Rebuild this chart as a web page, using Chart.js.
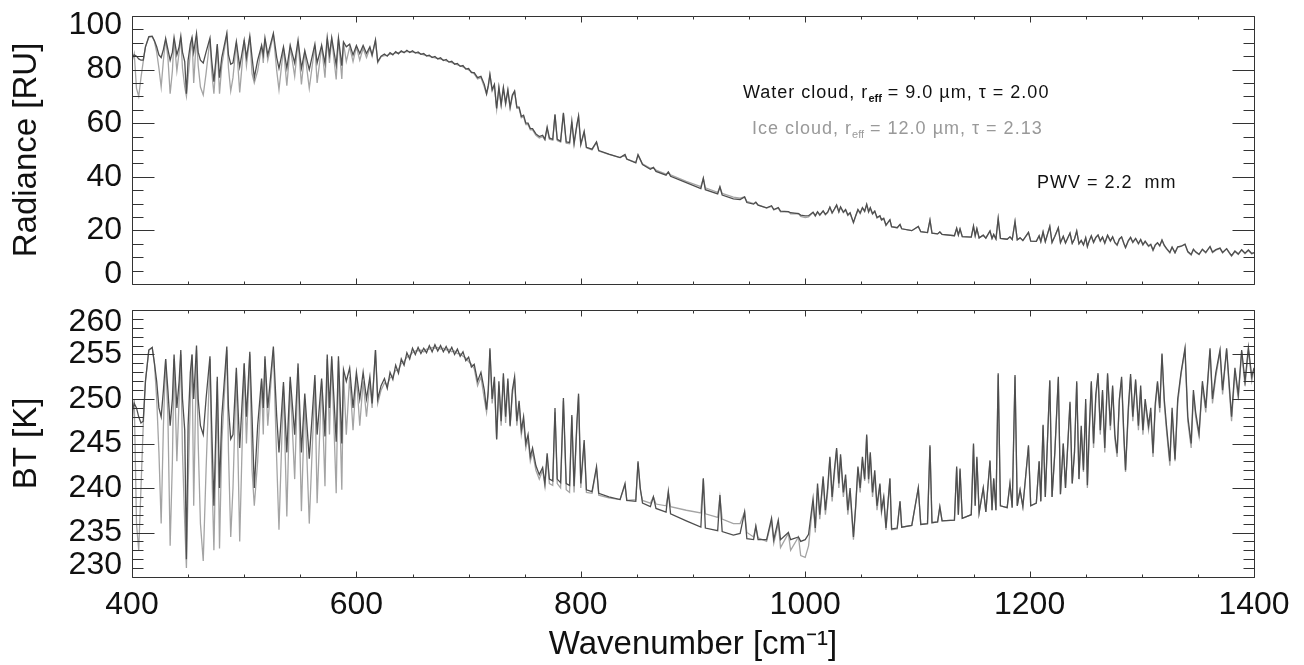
<!DOCTYPE html>
<html><head><meta charset="utf-8">
<script src="https://cdn.jsdelivr.net/npm/chart.js@4.4.1/dist/chart.umd.min.js"></script>
<style>
html,body{margin:0;padding:0;background:#fff;}
#wrap{position:relative;width:1304px;height:665px;overflow:hidden;font-family:'Liberation Sans',Arial,Helvetica,sans-serif;}
canvas{position:absolute;left:0;}
#c1{top:0;} #c2{top:300px;}
.note{position:absolute;font-size:18px;letter-spacing:1px;white-space:nowrap;line-height:20px;}
.note sub{font-size:11px;vertical-align:-4px;line-height:0;letter-spacing:0;}
</style></head><body>
<div id="wrap">
<canvas id="c1" width="1304" height="300"></canvas>
<canvas id="c2" width="1304" height="365"></canvas>
<div class="note" style="left:743px;top:82px;color:#111">Water cloud, r<sub style="font-weight:bold">eff</sub> = 9.0 µm, τ = 2.00</div>
<div class="note" style="left:752px;top:118px;color:#999">Ice cloud, r<sub>eff</sub> = 12.0 µm, τ = 2.13</div>
<div class="note" style="left:1037px;top:172px;color:#111">PWV = 2.2&nbsp; mm</div>
</div>
<script>
// ---- data ----
const wnTicks = [400, 600, 800, 1000, 1200, 1400];
const radTicks = [0, 20, 40, 60, 80, 100];
const btTicks = [230, 235, 240, 245, 250, 255, 260];

const wavenumber = [400,402,404,406,408,410,412,415,418,420,
422,424,426,428,430,432,434,436,437.5,440,
442,443.5,445,447,448.5,450,452,453.5,455,457.5,
459,461,463.5,466,469.5,471,473,476,478,480,
484.5,486,488,490,493,496,500,502,505,507,
509,512,515.5,517,518.5,521,526,529,531,535,
538,541,545,548,551,554,558,563,565,569,
572,574,576,578,582,584,587,588.5,591,594,
597,600,603,606,609,612,614,617,619,622,
625,627.5,630,632.5,635,637.5,640,642.5,645,647.5,650,652.5,655,657.5,660,662.5,665,667.5,670,672.5,675,677.5,680,682.5,685,687.5,690,692.5,695,697.5,700,702.5,705,
708,711,714,716,717.5,719,721,723,725,727,
729,731,733,735,737,739,741,743,745,747,
749,751,753,755,757,760,763,766,768,770,
772,775,777,779,782,784.5,787,790,792,794,
796.5,798,800,803,805,810,814,816,825,835,
839.4,841,849,851,853,855,862,864.7,867,876,
878,880,894,907,909.2,911,922,924,926,936,
942,946,948,954,956,958,965.6,970,972,976,
978,985,987,994,996,1000,1003,1007,1009,1011,
1013,1016,1018,1020,1022,1024,1026,1028,1030,1031.5,
1034,1036,1038,1040,1043,1045,1047,1049,1051,1053,
1054.8,1056.5,1058,1060,1062,1064,1066.6,1068,1070,1072,
1075.5,1077,1082,1084.5,1086,1095,1100.8,1103,1109,1111.2,
1113,1118,1120,1122,1133,1135,1136.5,1138,1140,1148,
1150,1151.5,1153,1155,1158.7,1161,1164.7,1166.5,1168,1170,
1172,1174,1180,1182.5,1184.5,1187,1189,1191.5,1194,1199,
1201,1206,1208.5,1210,1212,1214,1218,1220,1222.5,1225.6,
1227.5,1230,1232,1236,1238,1240,1242,1244,1246,1248,
1250,1251.5,1253,1255,1257,1259,1261,1263,1265,1267,
1269.5,1272,1274,1276,1278,1280,1282,1284,1285.5,1288,
1290,1292,1294.5,1297,1299,1301,1303,1306,1308,1310,
1312,1314,1316,1318,1320,1322,1325,1327,1329.6,1332,
1335,1338.5,1341,1344,1346,1348,1351,1354,1357,1360.8,
1363,1366,1369.7,1372,1375.6,1378,1380,1383,1386,1389,
1392,1395,1398,1400];

const btWater = [248.5,249.5,249,248,247.3,247.5,252,255.5,255.8,254,
252,249,248,251,254.5,251,247,250,255,249,
252,255.5,250,246.5,232,247,253,255,250,256,
250,247,246,250,254.8,247,238,252.5,240,248,
255.9,249,245.5,246,253.5,244.5,254,248,255.3,248,
240,247,252.3,249,254.8,249,255.9,248,244,251.9,
244,252.5,246,254,244,250.6,243.3,252.7,246,252.3,
245.8,255,249,254.8,245.2,254.8,245,253.3,252,253.5,
249,253,250,253,250,252.5,249.5,255.5,250,251.5,
252.3,251.2,253,252.2,253.8,252.9,254.5,253.8,255.2,254.5,255.7,255,255.8,255.1,255.7,255.2,256,255.3,256.1,255.4,256,255.3,255.9,255.2,255.8,255,255.6,254.8,255.3,254.3,254.7,253.6,253.9,
252,253,251,248.8,251,255.7,250,252.5,245.5,252,
247.5,252.9,248,252.3,247,251,252.5,247.5,249.8,246.5,
248,245,246,243.5,244.5,242.5,241.5,242.3,240.5,243.9,
241,240.8,249,241,240.6,250.1,240.5,240.3,248.2,240.2,
247.3,250.6,240.5,245.4,239.8,239.6,242.4,239.4,239,238.7,
240.5,238.6,238.5,243,240,238.3,237.9,239,237.7,237.3,
239.6,237.1,236.3,235.6,241.1,235.5,235.2,239.2,235.1,234.7,
234.9,237.3,234.3,234.2,235.7,234.2,234.2,236.6,234.2,236.4,
234.2,235,234.2,234.5,234,234.2,234.8,238.8,235.5,240.5,
237,241.3,237.5,240,243.5,239,242,244.5,240.5,243.8,
239.5,241.5,237.5,240,234.5,238,242.4,240,243.5,241,
246,241,244,239.5,242,238,240.5,237.5,239,235.5,
241.1,235.4,235.5,238.5,235.6,235.8,240,235.9,236,244.8,
236.1,236.2,237.9,236.3,236.4,242.4,237,242.2,236.6,237,
245,238,243.5,237.2,240,237.3,243.1,237.5,241.1,237.5,
252.9,238,237.8,240.5,237.8,252.7,238,239.8,237.9,244.8,
238,238.3,243,238.5,247.1,239,252.1,239,244,252.5,
239.3,245,240,249.7,240.5,244,252,241,247,242,
250,240.3,246,252,245,250.5,252.9,246.5,251,244.5,
252.9,247,251.5,246,243.9,250,252.5,246,242,249,
252.8,248,252.2,247,251.5,246.5,250,247,249,243.9,
249.5,252,249,255.1,250,247,243,249,243.2,250,
253,255.7,248,245,251,248.5,246.1,252,249,255.7,
250,253,255.5,251,255.7,251.5,248,253.5,250.5,255.5,
252,255.8,252.5,253.5];

const btIce = [247,250,236,233,240,247,252,255.5,255.8,254,
250,244,236,247,254.5,248,233.5,243,254.5,243,
250,255,244,236,231,240,250,255,238,255.5,
245,236,231.8,242,254.5,243,233,252,233.2,245,
255.5,244,234.5,240,253,234,254,245,255,242,
238,243,252,246,254.5,247,255.5,243,235.3,251.5,
236.8,252,241,253.5,237.4,250,236,252,238.3,252,
240.2,254.5,246,254.5,239.4,254.3,239.8,253,246,252.5,
246.5,252.5,247,252,248,252,249,255.5,249.5,251,
251.8,251.6,252.4,252.6,253.2,253.3,254,254.2,254.7,254.9,255.2,255.4,255.4,255.5,255.3,255.6,255.6,255.8,255.7,255.8,255.6,255.7,255.5,255.6,255.3,255.4,255.1,255.1,254.8,254.6,254.2,253.9,253.4,
251.5,252.5,250,248.5,250.5,255.5,249.5,252,245.4,251.5,
247,252.5,247.3,252,246.9,250.5,252.3,247,249.5,246,
247.5,244.5,245.5,243,244,242,241,242,240.2,243.5,
240.5,240.3,248.5,240.5,240,249.8,239.8,239.5,248,239.5,
247,250.3,240,245,239.5,239.4,242.2,239.2,238.9,238.7,
240.3,238.6,238.7,242.8,239.8,238.6,238.3,239,238.2,238,
239.5,237.9,237.5,237.2,241,237.1,236.7,239,236.5,236,
236,237.3,235,234.5,235.7,234.4,234,236.3,233.8,236,
233.3,234.9,233,234.5,232.4,232.2,233.5,238.5,235,240,
236.5,241,237,239.5,243.3,238.5,241.5,244.3,240,243.5,
239,241,237,239.5,234.2,237.8,242.2,239.5,243.2,240.8,
245.8,240.5,243.8,239,241.5,237.5,240.3,237.2,238.8,235.3,
241,235.3,235.4,238.5,235.6,235.8,240,235.9,236,244.6,
236.1,236.2,237.9,236.3,236.4,242.2,237,242,236.6,237,
244.8,238,243.3,237.2,240,237.3,243,237.5,241,237.5,
252.7,238,237.8,240.5,237.8,252.5,238,239.8,237.9,244.6,
238,238.3,243,238.5,247,239,252,239,244,252.3,
239.3,245,240,249.5,240.5,244,251.8,241,246.5,241.8,
249.5,240,245.5,251.8,244.5,250,252.7,246,250.8,244,
252.7,246.5,251.3,245.5,243.5,249.8,252.2,245.5,241.8,248.5,
252.5,247.5,252,246.5,251,246,249.5,246.5,248.5,243.5,
249,251.8,248.5,255,249.5,246.5,242.5,248.5,243,249.5,
252.8,255.5,247.5,244.5,250.5,248,245.8,251.5,248.5,255.5,
249.5,252.5,255.3,250.5,255.5,251,247.5,253,250,255.3,
251.5,255.5,252,253.3];

const radWater = [84.5,85.5,85,84,83.5,83.5,88.5,92.3,92.5,90.8,
88.5,85.5,84.5,87.5,91.5,87.5,83.5,86.5,92,85.5,
88.5,92.5,86.5,83,71,83.5,89.5,92,86.5,93.5,
86.5,83.5,82.5,86.5,91.8,83.5,75.5,89.5,77,84.5,
93.5,85.5,82,82.5,90.5,81,91,84.5,92.5,84.5,
77,83.5,89,85.5,91.8,85.5,93.5,84.5,80.5,88.5,
80.5,89,82.5,91,80.5,87,80,89.5,82.5,89,
82.3,92,85.5,91.8,81.7,91.8,81.5,90.3,88.5,89.5,
85.5,89,86,89,86,88.5,85.5,91,83,85,
85.8,85,86.3,85.5,86.7,85.9,87,86.3,87.2,86.4,87,86.2,86.6,85.7,86,85.1,85.4,84.5,84.9,84,84.4,83.4,83.8,82.8,83.1,82,82.3,81.2,81.5,80.2,80.4,78.9,78.9,
77,77.5,74.5,71,74,78.2,72.5,74.5,65.5,73.5,
67,73.3,67.5,72.5,66,70.5,72,66,66,62.5,
63,60,60,58,58,56,55,55.5,54,58.5,
54.5,54,63.3,54,53.3,63.9,53,52.8,60.8,52.5,
59.5,62.7,52.2,57,51,50.3,53,49.8,48.5,47.2,
48.3,46.6,45.2,48.3,46.5,44.6,42.8,43.5,42,40.6,
41.8,40.2,37.8,35.6,39.5,35.2,33.6,36.3,33.2,31.8,
31.5,32.5,30.4,29.8,30.5,29.4,28.4,29.2,27.8,28.5,
27.2,27,26.6,26.3,25.7,25.4,25.5,26.8,25.5,27,
25.8,27.3,26,26.8,28.7,26.6,28,29.5,27,28.8,
26.8,27.8,25.8,26.6,23,25.5,27.8,26.5,28.5,27.2,
29.8,27,28.5,26.2,27.2,24.8,25.5,24,24.5,22,
24,21.4,21,22.2,20.6,19.9,21.5,19.5,19.2,23.9,
19,18.7,19.4,18.5,18,20.8,18.3,20.6,17.7,17.5,
21.6,18,20.7,17.2,18.2,17.1,19.8,17,18.5,16.8,
24.5,17,16.7,17.6,16.6,23.3,16.5,17.2,16.2,19.3,
16,15.9,18,15.8,19.5,15.8,21.5,15.5,17.8,21,
15.4,17.8,15.3,19,15.2,16.8,19.8,15,16.3,14.6,
17.3,14,16,18,15.6,17.4,18.3,16.1,17.5,15.3,
18.2,16.1,17.6,15.5,14.6,16.8,17.6,15.2,13.6,16.2,
17.4,15.6,17,15.1,16.6,14.7,16,14.2,14.8,12.7,
14.6,15.4,14.3,16.4,14.5,13.3,11.8,13.8,11.7,13.9,
14.1,14.9,12.1,11,13,12,11.1,13,11.8,14,
11.9,12.8,13.4,11.8,13.2,11.7,10.6,12.3,11.2,12.8,
11.5,12.7,11.4,11.7];

const radIce = [83,86,73,70,77,83,88.5,92,92.3,90.5,
86.5,80.5,73.5,83.5,91.3,84.5,71,79.5,91.5,79.5,
86.5,92,80.5,73.5,70,77,86.5,92,75,92.5,
81.5,73.5,70.5,78.5,91.5,79.5,71,89,71,81.5,
93,80.5,72,77,90,71.5,91,81.5,92.3,78.5,
75,79.5,88.7,82.5,91.5,83.5,93,79.5,72.5,88,
74,88.5,77.5,90.5,74.5,86.5,73,89,75,88.7,
77,91.5,82.5,91.5,76.3,91.3,76.5,90,83,88.5,
83,88.5,83.5,88,84.5,88,85,91,82.5,84.8,
85.2,85.3,85.8,85.9,86.2,86.3,86.5,86.6,86.7,86.7,86.5,86.4,86.1,85.9,85.5,85.3,84.9,84.7,84.4,84.2,83.9,83.6,83.3,83,82.6,82.3,81.8,81.5,81,80.5,79.9,79.3,78.4,
76.5,77,73.5,70.8,73.5,78,72,74,65.2,73,
66.5,73,67,72,65.5,70,71.8,65.5,65.5,62,
62.5,59.5,59.5,57.5,57.5,55.5,54.5,55,53.8,58,
54,53.7,63,53.5,53,63.5,52.5,52.3,60.5,52,
59,62.5,51.8,56.5,50.8,50,52.8,49.6,48.4,47.2,
48.1,46.6,45.4,48,46.3,44.8,43.2,43.5,42.5,41,
41.8,40.7,38.3,36.3,39.4,35.9,34.2,36.2,33.8,32.4,
32,32.5,30.8,30,30.5,29.5,28.3,29,27.6,28.3,
26.9,27,26.2,26.3,25.2,24.8,25,26.7,25.3,26.8,
25.6,27.2,25.8,26.6,28.6,26.4,27.8,29.3,26.8,28.6,
26.6,27.5,25.5,26.4,22.8,25.3,27.6,26.2,28.3,27,
29.6,26.8,28.2,26,27,24.6,25.3,23.8,24.3,21.8,
23.9,21.3,21,22.2,20.6,19.9,21.5,19.5,19.2,23.8,
19,18.7,19.4,18.5,18,20.7,18.3,20.5,17.7,17.5,
21.5,18,20.6,17.2,18.2,17.1,19.7,17,18.4,16.8,
24.4,17,16.7,17.6,16.6,23.2,16.5,17.2,16.2,19.2,
16,15.9,18,15.8,19.4,15.8,21.4,15.5,17.8,20.9,
15.4,17.8,15.3,18.9,15.2,16.8,19.7,15,16.1,14.5,
17.1,13.9,15.8,17.9,15.4,17.2,18.2,15.9,17.4,15.1,
18.1,15.9,17.5,15.3,14.4,16.7,17.5,15,13.5,16,
17.3,15.4,16.9,14.9,16.4,14.5,15.8,14,14.6,12.5,
14.4,15.3,14.1,16.3,14.3,13.1,11.6,13.6,11.6,13.7,
14,14.8,11.9,10.8,12.8,11.8,11,12.8,11.6,13.9,
11.7,12.6,13.3,11.6,13.1,11.5,10.4,12.1,11,12.7,
11.3,12.5,11.2,11.6];

// ---- styling ----
const FONT = "'Liberation Sans', Arial, Helvetica, sans-serif";
const WATER = '#4e4e4e';
const ICE = '#a4a4a4';
const INK = '#111';

[btWater, btIce, radWater, radIce].forEach((a, i) => {
  if (a.length !== wavenumber.length) console.warn('length mismatch', i, a.length, wavenumber.length);
});
const pts = ys => wavenumber.map((x, i) => ({x, y: ys[i]}));

const frame = {
  id: 'frame',
  afterDatasetsDraw(chart, args, o) {
    const {ctx, chartArea: a, scales} = chart;
    const x = scales.x, y = scales.y;
    const L = Math.round(a.left) + 0.5, R = Math.round(a.right) + 0.5;
    const T = Math.round(a.top) + 0.5, B = Math.round(a.bottom) + 0.5;
    ctx.save();
    ctx.strokeStyle = '#333';
    ctx.lineWidth = 1;
    ctx.beginPath();
    ctx.rect(L, T, R - L, B - T);
    for (let v = x.min; v <= x.max + 1e-6; v += o.xMinor) {
      const p = Math.round(x.getPixelForValue(v)) + 0.5;
      const len = o.xMajor.includes(v) ? 6 : 3;
      ctx.moveTo(p, B); ctx.lineTo(p, B - len);
      ctx.moveTo(p, T); ctx.lineTo(p, T + len);
    }
    for (let v = y.min; v <= y.max + 1e-6; v += o.yMinor) {
      const p = Math.round(y.getPixelForValue(v)) + 0.5;
      const len = o.yMajor.includes(Math.round(v * 1000) / 1000) ? 22 : 11;
      ctx.moveTo(L, p); ctx.lineTo(L + len, p);
      ctx.moveTo(R, p); ctx.lineTo(R - len, p);
    }
    ctx.stroke();
    ctx.restore();
  }
};

function datasets(w, i) {
  return [
    {label: 'Water cloud', data: pts(w), borderColor: WATER, borderWidth: 1.3, pointRadius: 0, tension: 0, order: 0},
    {label: 'Ice cloud', data: pts(i), borderColor: ICE, borderWidth: 1.3, pointRadius: 0, tension: 0, order: 1}
  ];
}

function yAxis(min, max, ticks, title, lh) {
  return {
    type: 'linear', min, max,
    grid: {display: false, drawTicks: false}, border: {display: false},
    afterBuildTicks(s) { s.ticks = ticks.map(v => ({value: v})); },
    ticks: {
      autoSkip: false, padding: 10, color: INK,
      font: {family: FONT, size: 32, lineHeight: lh},
      callback: v => v === max ? ['', String(v)] : (v === min ? [String(v), ''] : String(v))
    },
    title: {display: true, text: title, color: INK, font: {family: FONT, size: 33}, padding: {top: 7, bottom: 0}},
    afterFit(s) { s.width = 132; s.paddingTop = 0; s.paddingBottom = 0; }
  };
}

Chart.defaults.font.family = FONT;

new Chart(document.getElementById('c1'), {
  type: 'line',
  data: {datasets: datasets(radWater, radIce)},
  options: {
    responsive: false, animation: false, events: [],
    layout: {padding: {top: 16, right: 50, bottom: 0, left: 0}},
    plugins: {legend: {display: false}, tooltip: {enabled: false},
      frame: {xMinor: 50, yMinor: 5, xMajor: wnTicks, yMajor: radTicks}},
    scales: {
      x: {type: 'linear', min: wnTicks[0], max: wnTicks[wnTicks.length - 1],
        grid: {display: false, drawTicks: false}, border: {display: false},
        ticks: {display: false},
        afterFit(s) { s.height = 16; s.paddingLeft = 0; s.paddingRight = 0; }},
      y: yAxis(radTicks[0], radTicks[radTicks.length - 1], radTicks, 'Radiance [RU]', 0.6)
    }
  },
  plugins: [frame]
});

new Chart(document.getElementById('c2'), {
  type: 'line',
  data: {datasets: datasets(btWater, btIce)},
  options: {
    responsive: false, animation: false, events: [],
    layout: {padding: {top: 10, right: 50, bottom: 0, left: 0}},
    plugins: {legend: {display: false}, tooltip: {enabled: false},
      frame: {xMinor: 50, yMinor: 1, xMajor: wnTicks, yMajor: btTicks}},
    scales: {
      x: {type: 'linear', min: wnTicks[0], max: wnTicks[wnTicks.length - 1],
        grid: {display: false, drawTicks: false}, border: {display: false},
        afterBuildTicks(s) { s.ticks = wnTicks.map(v => ({value: v})); },
        ticks: {autoSkip: false, maxRotation: 0, padding: 9, color: INK, font: {family: FONT, size: 32},
          callback: v => String(v)},
        title: {display: true, text: 'Wavenumber [cm\u207B\u00B9]', color: INK, font: {family: FONT, size: 33}, padding: {top: 0, bottom: 0}},
        afterFit(s) { s.height = 88; s.paddingLeft = 0; s.paddingRight = 0; }},
      y: yAxis(btTicks[0], btTicks[btTicks.length - 1], btTicks, 'BT [K]', 0.75)
    }
  },
  plugins: [frame]
});
</script>
</body></html>
